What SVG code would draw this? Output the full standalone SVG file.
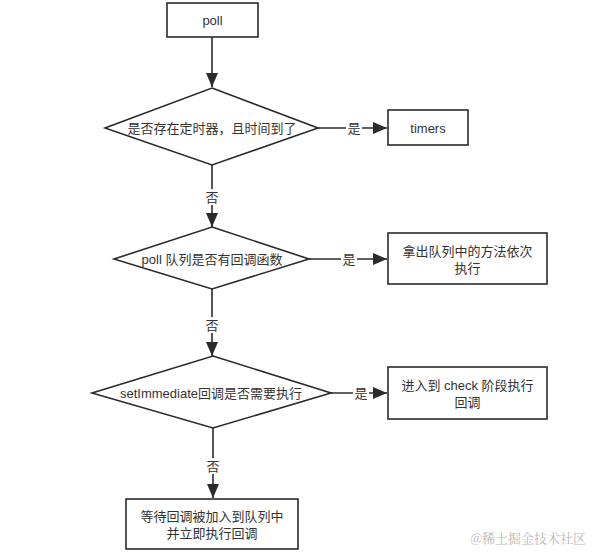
<svg xmlns="http://www.w3.org/2000/svg" width="598" height="553" viewBox="0 0 598 553">
<style>
.box{fill:#fff;stroke:#2b2b2b;stroke-width:1.6}
.dia{fill:#fff;stroke:#2b2b2b;stroke-width:1.6}
.t{font-family:"Liberation Sans","Noto Sans CJK SC",sans-serif;font-size:13px;fill:#333;text-anchor:middle;dominant-baseline:central}
.ln{fill:none;stroke:#2b2b2b;stroke-width:1.6}
.lbl{fill:#fff;stroke:none}
.wm{font-family:"Noto Serif CJK SC","Noto Sans CJK SC",serif;font-size:13px;fill:#b8b8b8;text-anchor:end}
</style>
<defs>
<marker id="arr" markerUnits="userSpaceOnUse" markerWidth="14" markerHeight="12" viewBox="0 0 14 12" refX="14" refY="6" orient="auto">
<path d="M0,0 L14,6 L0,12 Z" fill="#2b2b2b"/>
</marker>
</defs>
<rect width="598" height="553" fill="#fff"/>
<g id="connectors">
<line class="ln" x1="212" y1="37" x2="212" y2="87" marker-end="url(#arr)"/>
<line class="ln" x1="318" y1="128" x2="387" y2="128" marker-end="url(#arr)"/>
<rect class="lbl" x="346" y="120" width="16" height="16"/>
<text class="t" x="354" y="128">是</text>
<line class="ln" x1="212" y1="165" x2="212" y2="227" marker-end="url(#arr)"/>
<rect class="lbl" x="204" y="189" width="16" height="16"/>
<text class="t" x="212" y="197">否</text>
<line class="ln" x1="309" y1="259" x2="387" y2="259" marker-end="url(#arr)"/>
<rect class="lbl" x="341" y="251" width="16" height="16"/>
<text class="t" x="349" y="259">是</text>
<line class="ln" x1="212" y1="289" x2="212" y2="356" marker-end="url(#arr)"/>
<rect class="lbl" x="204" y="317" width="16" height="16"/>
<text class="t" x="212" y="325">否</text>
<line class="ln" x1="331" y1="393" x2="387" y2="393" marker-end="url(#arr)"/>
<rect class="lbl" x="353" y="385" width="16" height="16"/>
<text class="t" x="361" y="393">是</text>
<line class="ln" x1="213" y1="428" x2="213" y2="498" marker-end="url(#arr)"/>
<rect class="lbl" x="205" y="458" width="16" height="16"/>
<text class="t" x="213" y="466">否</text>
</g>
<g id="poll">
<rect class="box" x="167" y="3" width="91" height="34"/>
<text class="t" x="212.5" y="20">poll</text>
</g>
<g id="d1">
<polygon class="dia" points="212,88 318,128 212,165 105,128"/>
<text class="t" x="212" y="128">是否存在定时器，且时间到了</text>
</g>
<g id="timers">
<rect class="box" x="388" y="110" width="80" height="35"/>
<text class="t" x="428" y="128">timers</text>
</g>
<g id="d2">
<polygon class="dia" points="212,227 309,259 212,289 114,259"/>
<text class="t" x="212" y="259">poll 队列是否有回调函数</text>
</g>
<g id="b2">
<rect class="box" x="388" y="233" width="159" height="51"/>
<text class="t" x="467.5" y="251">拿出队列中的方法依次</text>
<text class="t" x="467.5" y="268">执行</text>
</g>
<g id="d3">
<polygon class="dia" points="213,356 331,393 213,428 92,393"/>
<text class="t" x="211" y="393">setImmediate回调是否需要执行</text>
</g>
<g id="b3">
<rect class="box" x="388" y="367" width="159" height="52"/>
<text class="t" x="467.5" y="385">进入到 check 阶段执行</text>
<text class="t" x="467.5" y="402">回调</text>
</g>
<g id="b4">
<rect class="box" x="126" y="499" width="172" height="50"/>
<text class="t" x="212" y="516">等待回调被加入到队列中</text>
<text class="t" x="212" y="533">并立即执行回调</text>
</g>
<text class="wm" x="586" y="543">@稀土掘金技术社区</text>
</svg>
